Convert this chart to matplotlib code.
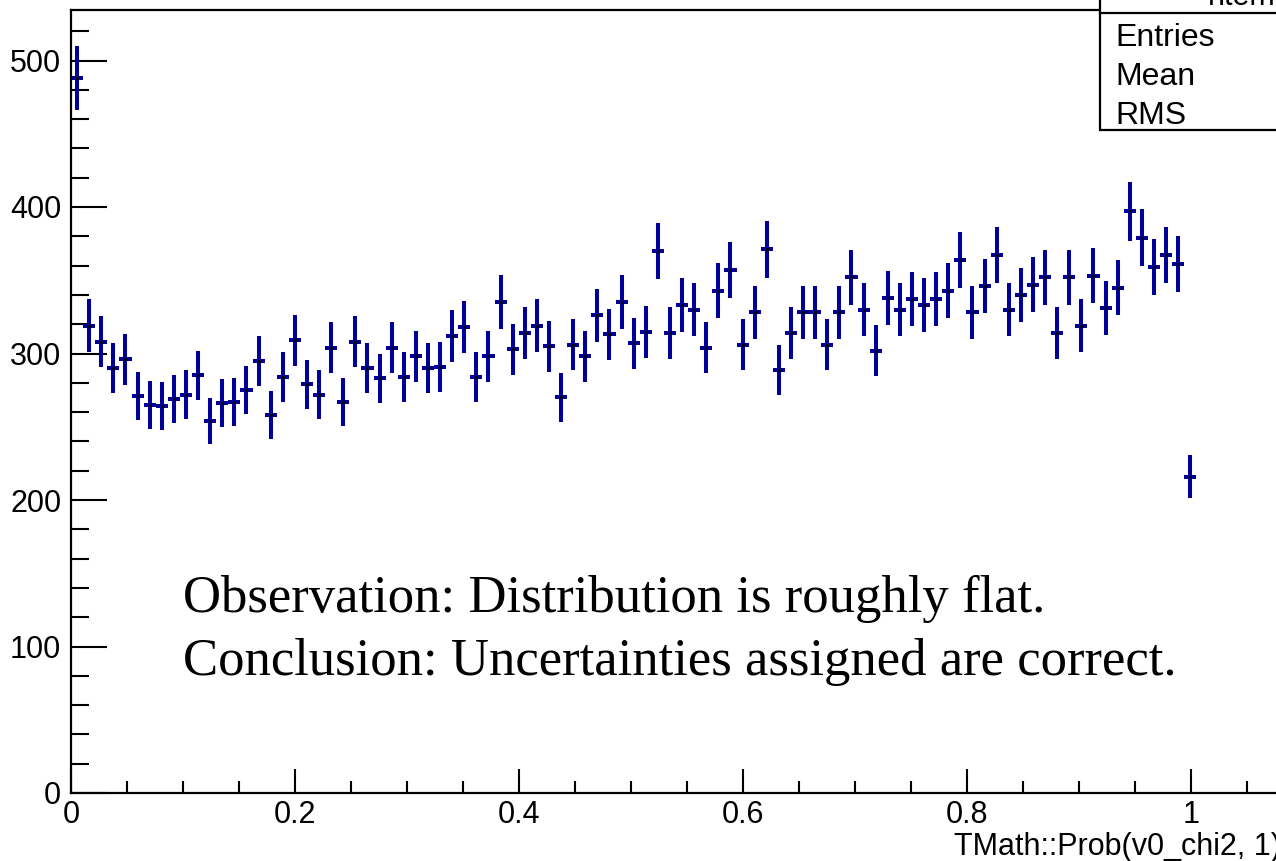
import numpy as np
import matplotlib
matplotlib.use("Agg")
import matplotlib.pyplot as plt
from matplotlib.patches import Rectangle
from matplotlib.lines import Line2D

# histogram: 100 bins on [0, 1.08], only the first 93 are filled
x_min, x_max, n_bins = 0.0, 1.08, 100
counts = [488, 319, 308, 290, 296, 271, 265, 264, 269, 272,
          285, 254, 266, 267, 275, 295, 258, 284, 309, 279,
          272, 304, 267, 308, 290, 283, 304, 284, 298, 290,
          291, 312, 318, 284, 298, 335, 303, 314, 319, 305,
          270, 306, 298, 326, 313, 335, 307, 315, 370, 314,
          333, 330, 304, 343, 357, 306, 328, 371, 289, 314,
          328, 328, 306, 328, 352, 330, 302, 338, 330, 337,
          333, 337, 343, 364, 328, 346, 367, 330, 340, 347,
          352, 314, 352, 319, 353, 331, 345, 397, 379, 359,
          367, 361, 216]

x_ticks = [0, 0.2, 0.4, 0.6, 0.8, 1]
x_ticklabels = ["0", "0.2", "0.4", "0.6", "0.8", "1"]
y_ticks = [0, 100, 200, 300, 400, 500]
stat_names = ["Entries", "Mean", "RMS"]
notes = ["Observation: Distribution is roughly flat.",
         "Conclusion: Uncertainties assigned are correct."]

W, H = 1276, 861
fig = plt.figure(figsize=(W / 100, H / 100), dpi=100)

def fx(px):
    return px / W

def fy(py):
    return 1 - py / H

# frame: left 71, right 1281 (just off the picture), top 10, bottom 793
ax = fig.add_axes([fx(71), fy(793), fx(1281 - 71), (793 - 10) / H])

edges = np.linspace(x_min, x_max, n_bins + 1)
centers = 0.5 * (edges[:-1] + edges[1:])[:len(counts)]
y = np.array(counts, dtype=float)
half = 0.5 * (edges[1] - edges[0])
ax.errorbar(centers, y, yerr=np.sqrt(y), xerr=half, fmt="none",
            ecolor="#000099", elinewidth=2.9, capsize=0)
ax.plot(centers, y, ls="none", marker="s", ms=1.2, color="black")

ax.set_xlim(x_min, x_max)
ax.set_ylim(0, (793 - 10) / 1.465)

ax.set_xticks(x_ticks)
ax.set_xticklabels(x_ticklabels)
ax.set_xticks(np.arange(0, 1.08, 0.05), minor=True)
ax.set_yticks(y_ticks)
ax.set_yticks(np.arange(0, 540, 20), minor=True)

font = "Liberation Sans"
ax.tick_params(axis="both", which="both", direction="in", width=1.5,
               top=False, right=False, colors="black")
ax.tick_params(axis="y", which="major", length=26, pad=7, labelsize=22)
ax.tick_params(axis="y", which="minor", length=13)
ax.tick_params(axis="x", which="major", length=17, pad=5, labelsize=22)
ax.tick_params(axis="x", which="minor", length=8.5)
for lab in ax.get_xticklabels() + ax.get_yticklabels():
    lab.set_fontfamily(font)

for side in ["left", "bottom", "top", "right"]:
    ax.spines[side].set_linewidth(1.6)

ax.text(1.08, -(855 - 793) / 1.465, "TMath::Prob(v0_chi2, 1)", ha="right",
        va="baseline", fontsize=22, family=font, clip_on=False)

for i, line in enumerate(notes):
    ax.text(0.1, 123.5 - 43 * i, line, ha="left", va="baseline",
            fontsize=38, family="Liberation Serif")

# stats box in the top right corner, mostly cut off
box = Rectangle((fx(1100), fy(130)), fx(1400 - 1100), (130 + 40) / H,
                transform=fig.transFigure, facecolor="white",
                edgecolor="black", linewidth=1.6, zorder=5)
fig.patches.append(box)
fig.lines.append(Line2D([fx(1100), fx(1400)], [fy(13), fy(13)],
                        transform=fig.transFigure, color="black", lw=1.6,
                        zorder=6))
fig.text(fx(1250), fy(5), "htemp", ha="center", va="baseline",
         fontsize=22, family=font, zorder=7)
for i, name in enumerate(stat_names):
    fig.text(fx(1115), fy(46 + 39 * i), name, ha="left", va="baseline",
             fontsize=23, family=font, zorder=7)

fig.savefig("out.png", dpi=100)
